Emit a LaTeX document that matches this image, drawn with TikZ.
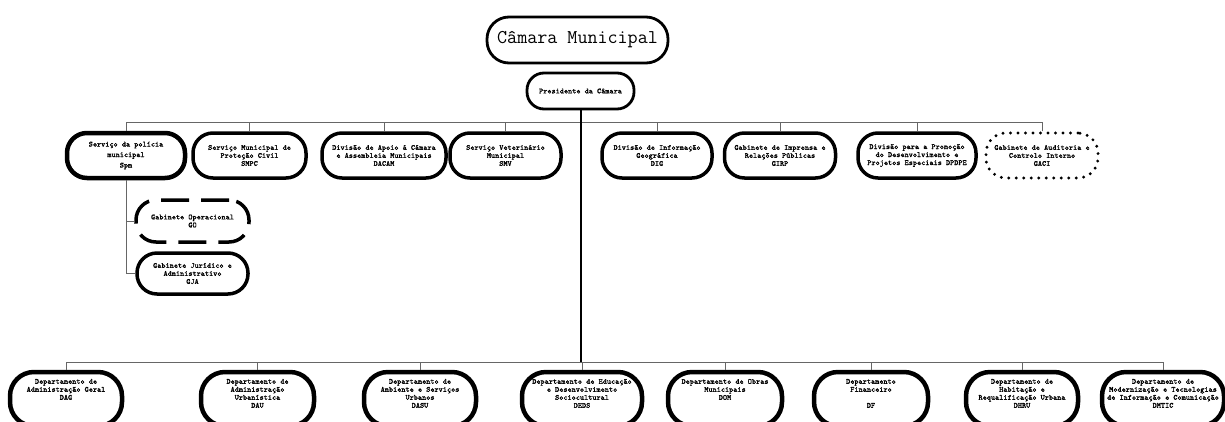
\documentclass[tikz,border=0pt]{standalone}
\usepackage{fontspec}
\newfontfamily\smallmono[FakeBold=1.2]{Latin Modern Mono}
\newfontfamily\bigmono{Latin Modern Mono}
\newcommand{\bt}[1]{\makebox[0pt]{\parbox[c][40pt][t]{150pt}{\centering #1}}}
\begin{document}
\begin{tikzpicture}[x=1pt,y=-1pt,
  box/.style={draw=black, line width=3.5pt, rounded corners=20pt, align=center,
    font=\smallmono\fontsize{7.8}{8}\selectfont, inner sep=0pt, minimum height=45pt},
  bbox/.style={box, line width=4.5pt, minimum height=54pt, rounded corners=24pt},
  link/.style={draw=black!60, line width=1pt},
  trunk/.style={draw=black, line width=2pt}]
\useasboundingbox (0,0) rectangle (1225,421);

% top
\node[box, line width=2.8pt, minimum width=181pt, minimum height=46pt, rounded corners=22pt,
  font=\bigmono\fontsize{19.5}{22}\selectfont] (cm) at (577.5,40) {Câmara Municipal};
\node[box, line width=2.8pt, minimum width=107pt, minimum height=36pt, rounded corners=17pt] (pres) at (580.5,91) {Presidente da Câmara};

% top row
\node[box, line width=4.5pt, minimum width=118pt] (spm) at (126,155.5) {Serviço da polícia\\[2.5pt]municipal\\[2.5pt]Spm};
\node[box, minimum width=113pt] (smpc) at (249.5,155.5) {Serviço Municipal de\\Proteção Civil\\SMPC};
\node[box, minimum width=124pt] (dacam) at (384,155.5) {Divisão de Apoio à Câmara\\e Assembleia Municipais\\DACAM};
\node[box, minimum width=111pt] (smv) at (505.5,155.5) {Serviço Veterinário\\Municipal\\SMV};
\node[box, minimum width=110pt] (dig) at (657,155.5) {Divisão de Informação\\Geográfica\\DIG};
\node[box, minimum width=111pt] (girp) at (780,155.5) {Gabinete de Imprensa e\\Relações Públicas\\GIRP};
\node[box, minimum width=118pt] (dpdpe) at (917,155.5) {Divisão para a Promoção\\do Desenvolvimento e\\Projetos Especiais DPDPE};
\node[box, line width=3.2pt, dash pattern=on 0pt off 7.5pt, line cap=round, minimum width=112pt] (gaci) at (1042,155.5) {Gabinete de Auditoria e\\Controlo Interno\\GACI};

% sub nodes
\node[box, dash pattern=on 28pt off 12pt, minimum width=113pt, minimum height=42pt] (go) at (192.5,221) {Gabinete Operacional\\GO};
\node[box, minimum width=111pt, minimum height=41pt] (gja) at (192.5,273.5) {Gabinete Jurídico e\\Administrativo\\GJA};

% bottom row
\node[bbox, minimum width=112pt] (dag) at (66,399) {\bt{Departamento de\\Administração Geral\\DAG}};
\node[bbox, minimum width=113pt] (dau) at (257.5,399) {\bt{Departamento de\\Administração\\Urbanística\\DAU}};
\node[bbox, minimum width=112pt] (dasu) at (420,399) {\bt{Departamento de\\Ambiente e Serviços\\Urbanos\\DASU}};
\node[bbox, minimum width=120pt] (deds) at (582,399) {\bt{Departamento de Educação\\e Desenvolvimento\\Sociocultural\\DEDS}};
\node[bbox, minimum width=114pt] (dom) at (725,399) {\bt{Departamento de Obras\\Municipais\\DOM}};
\node[bbox, minimum width=114pt] (df) at (871,399) {\bt{Departamento\\Financeiro\\[8pt]DF}};
\node[bbox, minimum width=112pt] (dhru) at (1022,399) {\bt{Departamento de\\Habitação e\\Requalificação Urbana\\DHRU}};
\node[bbox, minimum width=122pt] (dmtic) at (1163,399) {\bt{Departamento de\\Modernização e Tecnologias\\de Informação e Comunicação\\DMTIC}};

% connectors
\coordinate (tb) at (0,122);
\coordinate (bb) at (0,362);
\draw[link] (spm.north |- tb) -- (gaci.north |- tb);
\foreach \n in {spm,smpc,dacam,smv,dig,girp,dpdpe,gaci}
  \draw[link] (\n.north) -- (\n.north |- tb);
\draw[link] (dag.north |- bb) -- (dmtic.north |- bb);
\foreach \n in {dag,dau,dasu,deds,dom,df,dhru,dmtic}
  \draw[link] (\n.north) -- (\n.north |- bb);
\draw[trunk] (pres.south) -- (pres.south |- bb);
\draw[link] (spm.south) -- (spm.south |- gja.west) -- (gja.west);
\draw[link] (spm.south |- go.west) -- (go.west);
\end{tikzpicture}
\end{document}
